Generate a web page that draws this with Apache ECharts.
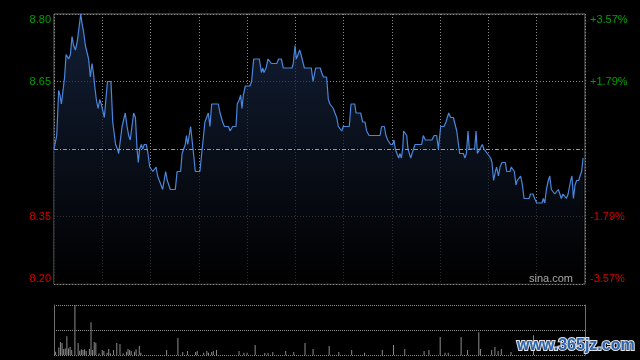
<!DOCTYPE html>
<html><head><meta charset="utf-8">
<script src="https://cdn.jsdelivr.net/npm/echarts@6/dist/echarts.min.js"></script>
<style>html,body{margin:0;padding:0;background:#000}#c{width:640px;height:360px}</style>
</head><body><div id="c"></div>
<script>
// minutes from the open (HK session, 330 minutes) and last price
const times = [0,1.7,2.9,3.7,4.6,5.6,6.6,7.5,8.3,9.1,10.2,11.2,12.2,13.3,14.5,15.7,16.6,17.4,18.4,19.5,20.5,21.5,22.6,23.6,24.5,25.3,26.3,27.4,28.4,29.4,30.5,31.3,32.3,33.2,35.4,36.5,37.5,38.3,39.4,40.2,41.2,42.3,43.3,44.3,45.4,46.4,47.4,48.5,49.5,50.6,51.6,52.4,53.2,54.3,55.1,56.1,57.4,58.4,59.5,60.5,61.5,62.6,63.4,64.4,65.5,66.5,67.5,68.6,69.4,70.4,71.3,72.3,75.4,76.5,78.7,79.6,80.6,81.6,82.3,83.1,84.1,84.9,86.0,87.0,87.8,90.7,91.8,92.8,93.8,94.9,95.9,96.9,98.0,102.1,103.2,104.0,104.8,105.9,108.5,109.4,110.0,111.0,113.1,113.9,115.2,116.0,116.8,117.7,118.9,121.8,122.8,124.1,127.6,128.9,129.7,130.5,131.8,133.0,134.2,135.1,138.4,139.6,141.3,142.5,147.9,148.7,149.8,150.6,151.6,152.7,153.5,154.5,155.6,159.9,161.0,161.8,162.6,165.5,166.3,167.4,169.4,170.5,171.5,172.6,173.6,174.6,175.7,176.7,177.7,178.8,179.8,183.5,184.6,186.9,187.7,190.6,191.8,193.3,194.3,195.8,202.6,203.6,205.3,206.3,207.4,208.4,209.2,210.5,211.3,212.1,213.2,214.2,215.0,215.9,216.7,217.3,218.4,219.2,220.0,220.8,221.7,222.5,223.3,224.4,228.5,229.5,230.8,234.9,236.2,237.8,238.9,239.5,240.3,242.4,243.6,245.3,246.5,248.2,249.6,250.3,251.3,252.1,254.4,255.4,256.3,257.3,258.1,261.4,262.3,263.1,264.3,266.2,267.2,268.3,269.3,270.3,271.4,272.2,273.2,274.3,275.1,276.2,277.2,278.4,280.5,281.3,283.4,284.2,285.3,286.1,287.1,287.9,289.0,290.0,291.1,292.1,295.2,296.2,297.7,298.7,300.0,303.3,304.1,305.0,306.0,307.2,308.1,309.1,310.1,311.2,312.4,313.4,314.3,315.3,316.3,317.4,318.4,319.5,320.3,321.1,321.9,322.8,323.8,324.8,326.1,326.9,327.9,328.8];
const prices = [8.50,8.53,8.63,8.62,8.60,8.60,8.66,8.71,8.71,8.70,8.71,8.75,8.73,8.72,8.74,8.74,8.80,8.78,8.76,8.73,8.73,8.70,8.66,8.69,8.67,8.64,8.61,8.59,8.61,8.60,8.60,8.57,8.57,8.65,8.65,8.56,8.56,8.51,8.50,8.49,8.49,8.55,8.55,8.58,8.55,8.53,8.52,8.52,8.58,8.57,8.50,8.47,8.50,8.51,8.50,8.51,8.51,8.49,8.46,8.46,8.45,8.45,8.46,8.44,8.44,8.42,8.41,8.41,8.45,8.43,8.43,8.41,8.41,8.45,8.45,8.49,8.49,8.51,8.53,8.51,8.51,8.55,8.55,8.48,8.45,8.45,8.49,8.49,8.56,8.56,8.58,8.55,8.60,8.60,8.58,8.58,8.56,8.55,8.55,8.54,8.54,8.55,8.55,8.60,8.61,8.62,8.59,8.62,8.64,8.64,8.65,8.70,8.70,8.67,8.68,8.67,8.68,8.70,8.70,8.69,8.69,8.70,8.70,8.68,8.68,8.69,8.73,8.70,8.70,8.72,8.71,8.71,8.68,8.68,8.65,8.65,8.68,8.68,8.67,8.66,8.66,8.61,8.60,8.60,8.59,8.58,8.57,8.55,8.55,8.54,8.55,8.55,8.60,8.60,8.58,8.58,8.56,8.56,8.54,8.53,8.53,8.55,8.55,8.53,8.52,8.52,8.51,8.51,8.52,8.50,8.50,8.48,8.49,8.48,8.50,8.54,8.54,8.53,8.50,8.50,8.48,8.49,8.49,8.51,8.51,8.53,8.52,8.52,8.53,8.53,8.50,8.50,8.55,8.55,8.56,8.58,8.57,8.57,8.55,8.54,8.54,8.49,8.49,8.48,8.49,8.54,8.50,8.50,8.54,8.49,8.49,8.51,8.50,8.50,8.49,8.49,8.48,8.47,8.43,8.45,8.46,8.44,8.46,8.47,8.47,8.45,8.45,8.46,8.46,8.45,8.42,8.43,8.43,8.44,8.42,8.39,8.39,8.40,8.40,8.39,8.38,8.38,8.39,8.38,8.41,8.43,8.44,8.41,8.41,8.40,8.40,8.41,8.41,8.39,8.40,8.40,8.39,8.40,8.40,8.43,8.44,8.39,8.42,8.43,8.43,8.44,8.45,8.48];
// volume bars (minute, volume)
const volTimes = [1,3,4,5,6,7,8,9,10,11,13,15,16,17,18,19,20,22,23,24,25,26,28,30,31,33,34,35,37,39,41,43,45,46,47,48,50,51,53,54,70,77,80,83,88,89,93,95,96,98,99,101,115,118,120,125,131,133,136,144,149,156,161,171,177,185,193,204,211,218,230,233,240,243,245,253,257,264,265,272,274,276,278,284,298];
const volValues = [10,23,39,36,18,20,57,20,24,15,151,36,13,17,15,17,12,18,99,15,39,37,5,15,12,7,18,5,15,36,33,5,10,18,15,12,10,17,27,7,15,51,9,12,9,12,7,12,7,9,12,15,12,7,7,30,6,6,9,12,9,36,18,27,9,15,7,15,30,18,12,15,54,7,7,54,15,69,18,15,24,12,18,9,60];
const volMax = 151;
const timeMax = 330;
const timeStep = 30;
const prevClose = 8.50;
const priceTicks = [8.20, 8.35, 8.50, 8.65, 8.80];
const priceLabels = ['8.20', '8.35', '', '8.65', '8.80'];
const pctLabels = ['-3.57%', '-1.79%', '', '+1.79%', '+3.57%'];

const FONT = 'Arial, "Liberation Sans", sans-serif';
const UP = '#00a000', DOWN = '#d80000';
function tickIndex(v){for(let k=0;k<priceTicks.length;k++){if(Math.abs(priceTicks[k]-v)<1e-6)return k;}return -1;}

const chart = echarts.init(document.getElementById('c'), null, {renderer:'canvas'});
const priceStep = +(priceTicks[1]-priceTicks[0]).toFixed(4);
const labelCommon = {
  fontSize: 11, fontFamily: FONT,
  color: v => (v > prevClose ? UP : DOWN),
  verticalAlignMaxLabel: 'top', verticalAlignMinLabel: 'bottom'
};
chart.setOption({
  backgroundColor: '#000',
  animation: false,
  grid: [
    {left: 54, top: 14, width: 531, height: 270, show: true, borderColor: '#6e6e6e', borderWidth: 1, backgroundColor: 'transparent'},
    {left: 54, top: 305, width: 531, height: 50}
  ],
  xAxis: [
    {type: 'value', gridIndex: 0, min: 0, max: timeMax, interval: timeStep,
     axisLine: {show: false}, axisTick: {show: false}, axisLabel: {show: false},
     splitLine: {show: true, lineStyle: {color: '#8a8a8a', width: 1, type: [1, 2]}}},
    {type: 'value', gridIndex: 1, min: 0, max: timeMax, interval: timeStep,
     axisLine: {show: false}, axisTick: {show: false}, axisLabel: {show: false}, splitLine: {show: false}}
  ],
  yAxis: [
    {type: 'value', gridIndex: 0, min: priceTicks[0], max: priceTicks[priceTicks.length-1], interval: priceStep,
     axisLine: {show: false}, axisTick: {show: false},
     axisLabel: Object.assign({}, labelCommon, {margin: 3, formatter: v => { const k = tickIndex(v); return k < 0 ? '' : priceLabels[k]; }}),
     splitLine: {show: true, lineStyle: {color: '#8a8a8a', width: 1, type: [1, 2]}}},
    {type: 'value', gridIndex: 0, position: 'right', min: priceTicks[0], max: priceTicks[priceTicks.length-1], interval: priceStep,
     axisLine: {show: false}, axisTick: {show: false},
     axisLabel: Object.assign({}, labelCommon, {margin: 5, formatter: v => { const k = tickIndex(v); return k < 0 ? '' : pctLabels[k]; }}),
     splitLine: {show: false}},
    {type: 'value', gridIndex: 1, min: 0, max: volMax, interval: volMax/2,
     axisLine: {show: true, lineStyle: {color: '#6e6e6e', width: 1}}, axisTick: {show: false}, axisLabel: {show: false},
     splitLine: {show: true, lineStyle: {color: '#8a8a8a', width: 1, type: [1, 1]}}},
    {type: 'value', gridIndex: 1, position: 'right', min: 0, max: volMax, interval: volMax/2,
     axisLine: {show: true, lineStyle: {color: '#6e6e6e', width: 1}}, axisTick: {show: false}, axisLabel: {show: false}, splitLine: {show: false}}
  ],
  series: [
    {type: 'line', xAxisIndex: 0, yAxisIndex: 0, data: times.map((t, i) => [t, prices[i]]),
     showSymbol: false, smooth: false,
     lineStyle: {color: '#4a86dc', width: 1.2},
     areaStyle: {origin: 'start', color: new echarts.graphic.LinearGradient(0, 0, 0, 1, [
       {offset: 0, color: '#1b2c4c'}, {offset: 1, color: '#000000'}])},
     markLine: {silent: true, symbol: 'none', label: {show: false},
       lineStyle: {color: '#9a9a9a', width: 1, type: [4, 2, 1, 2]},
       data: [{yAxis: prevClose}]},
     z: 3},
    {type: 'bar', xAxisIndex: 1, yAxisIndex: 2, data: volTimes.map((t, i) => [t, volValues[i]]),
     barWidth: 1, itemStyle: {color: '#8c8c8c'}}
  ],
  graphic: [
    {type: 'text', right: 67, top: 273, z: 10,
     style: {text: 'sina.com', fill: '#a8a8a8', font: '11px ' + FONT}},
    {type: 'text', left: 516, top: 337, z: 20,
     style: {text: 'www.365jz.com', fill: '#2c64b0', stroke: '#e0e0e0', lineWidth: 2,
             font: 'bold 16px ' + FONT}}
  ]
});
</script>
</body></html>
